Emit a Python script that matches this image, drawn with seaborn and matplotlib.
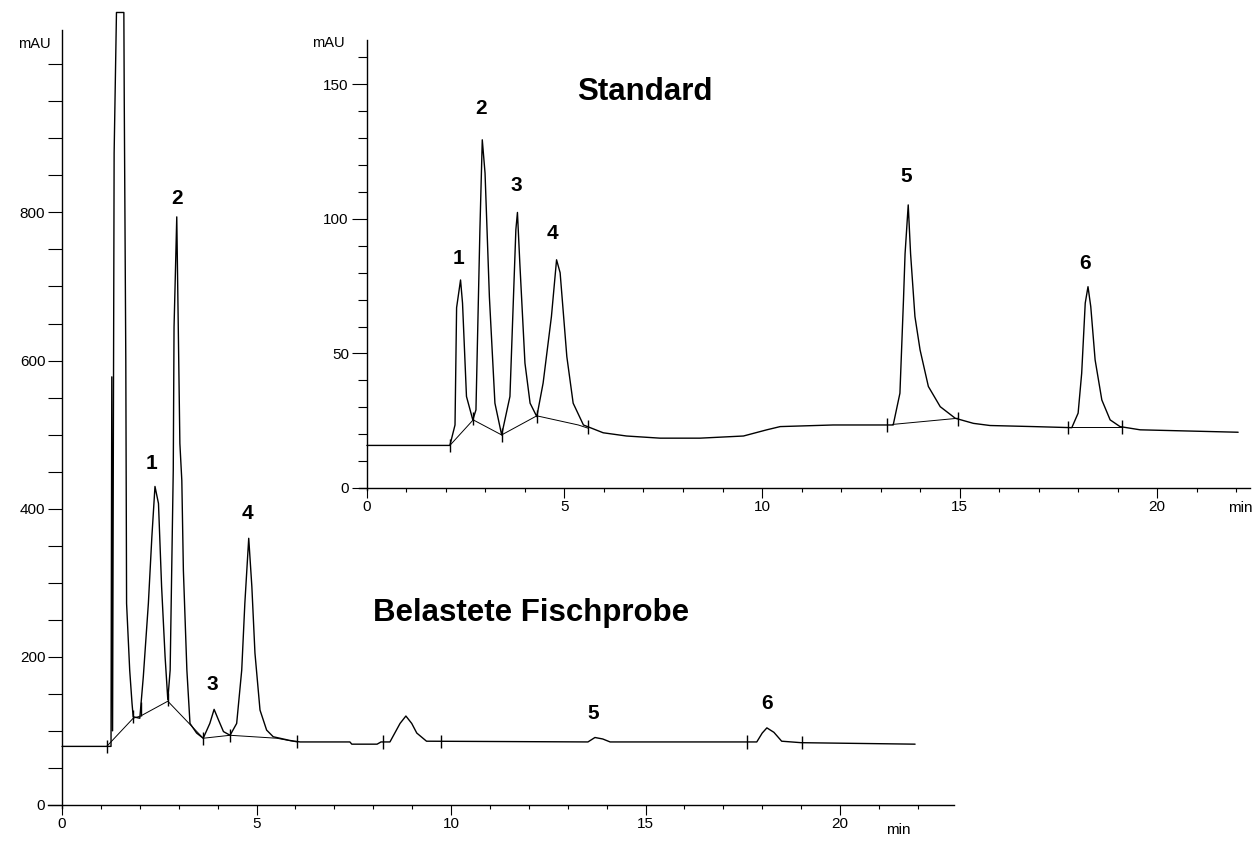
import numpy as np
import matplotlib
matplotlib.use("Agg")
import matplotlib.pyplot as plt
import seaborn as sns
from matplotlib.ticker import MultipleLocator, FixedLocator

sns.set_style("ticks")
plt.rcParams["font.family"] = ["Liberation Sans", "DejaVu Sans"]
plt.rcParams.update({
    "text.color": "black",
    "axes.labelcolor": "black",
    "xtick.color": "black",
    "ytick.color": "black",
    "axes.edgecolor": "black",
})

# --- Belastete Fischprobe (Hauptchromatogramm) ---
probe_t = [0.00, 1.26, 1.28, 1.30, 1.34, 1.40, 1.59, 1.60, 1.64, 1.66, 1.74, 1.80,
           1.83, 2.00, 2.09, 2.22, 2.31, 2.39, 2.48, 2.56, 2.65, 2.72, 2.78, 2.82,
           2.86, 2.88, 2.91, 2.95, 2.97, 3.03, 3.08, 3.12, 3.21, 3.29, 3.46, 3.63,
           3.80, 3.91, 4.02, 4.15, 4.32, 4.49, 4.62, 4.70, 4.80, 4.88, 4.96, 5.09,
           5.26, 5.43, 5.86, 6.12, 7.40, 7.45, 8.10, 8.20, 8.43, 8.69, 8.84, 8.99,
           9.12, 9.37, 13.52, 13.70, 13.90, 14.09, 17.86, 18.00, 18.12, 18.30,
           18.50, 19.00, 21.93]
probe_mau = [79, 79, 578, 100, 880, 1070, 1070, 953, 600, 272, 182, 137,
             119, 117, 173, 272, 362, 430, 407, 295, 200, 142, 182, 317,
             452, 645, 708, 794, 717, 488, 438, 317, 182, 110, 97, 90,
             110, 129, 115, 99, 94, 110, 182, 272, 360, 295, 205, 128,
             101, 92, 87, 85, 85, 82, 82, 85, 85, 110, 120, 110,
             97, 86, 85, 91, 89, 85, 85, 97, 104, 98,
             86, 84, 82]
probe_base_t = [1.15, 1.83, 2.02, 2.72, 3.63, 4.32, 5.52, 6.03]
probe_base_mau = [79, 117, 120, 140, 90, 94, 90, 85]
probe_marks = [1.15, 1.83, 2.02, 2.72, 3.63, 4.32, 6.04, 8.24, 9.74, 17.60, 19.01]
probe_peak_t = [2.31, 2.95, 3.87, 4.77, 13.65, 18.12]
probe_peak_mau = [461, 819, 162, 394, 124, 137]

# --- Standard (Einsatz) ---
std_t = [0.00, 2.10, 2.23, 2.27, 2.37, 2.42, 2.52, 2.68, 2.76, 2.86, 2.92, 2.99,
         3.10, 3.24, 3.41, 3.62, 3.77, 3.81, 3.87, 4.00, 4.13, 4.30, 4.46, 4.67,
         4.80, 4.89, 5.06, 5.22, 5.48, 5.98, 6.57, 7.42, 8.43, 9.53, 10.12, 10.46,
         11.80, 13.32, 13.49, 13.58, 13.62, 13.70, 13.76, 13.87, 14.00, 14.21,
         14.51, 14.89, 15.35, 15.77, 16.87, 17.84, 18.00, 18.09, 18.18, 18.25,
         18.32, 18.43, 18.60, 18.81, 19.06, 19.57, 22.05]
std_mau = [15.8, 15.8, 23.4, 67.0, 77.3, 68.7, 34.0, 25.3, 29.0, 96.0, 129.4, 117.0,
           71.0, 31.5, 19.7, 34.0, 96.0, 102.4, 83.6, 46.4, 31.5, 26.5, 39.0, 63.7,
           84.8, 80.0, 48.8, 31.5, 23.4, 20.5, 19.3, 18.5, 18.5, 19.3, 21.6, 22.8,
           23.4, 23.4, 35.2, 69.9, 87.0, 105.2, 87.0, 63.7, 51.3, 37.7,
           30.2, 25.9, 24.0, 23.2, 22.8, 22.4, 27.8, 42.6, 68.7, 74.8,
           67.4, 47.6, 32.7, 25.3, 22.8, 21.6, 20.7]
std_base_t = [2.10, 2.69, 3.41, 4.30, 5.35, 5.60, 13.30, 14.96, 17.80, 19.10]
std_base_mau = [15.8, 25.3, 19.7, 26.8, 23.4, 22.2, 23.6, 25.9, 22.6, 22.6]
std_base_seg = [0, 0, 0, 0, 0, 0, 1, 1, 2, 2]
std_marks = [2.10, 2.69, 3.41, 4.30, 5.60, 13.16, 14.96, 17.74, 19.10]
std_peak_t = [2.31, 2.89, 3.79, 4.70, 13.66, 18.18]
std_peak_mau = [85.4, 141.0, 112.6, 94.7, 115.7, 83.5]

peak_names = ["1", "2", "3", "4", "5", "6"]

W, H = 1260, 842
fig = plt.figure(figsize=(W / 100, H / 100), dpi=100)
ax = fig.add_axes([48 / W, 1 - 816 / H, 906 / W, 805 / H])
ax2 = fig.add_axes([359 / W, 1 - 496 / H, 891 / W, 456 / H])
ax2.patch.set_alpha(0)

label_font = ["Liberation Sans Narrow", "Liberation Sans", "DejaVu Sans"]


def style_axis(a, xlim, ylim, ytop, ymaj, ymin, ylabels, ylen):
    a.set_xlim(*xlim)
    a.set_ylim(*ylim)
    for s in ["top", "right"]:
        a.spines[s].set_visible(False)
    a.spines["left"].set_position(("data", 0))
    a.spines["bottom"].set_position(("data", 0))
    a.spines["left"].set_bounds(ylim[0] * 0.3, ytop)
    for s in ["left", "bottom"]:
        a.spines[s].set_linewidth(1.0)
        a.spines[s].set_color("black")
    a.xaxis.set_major_locator(FixedLocator([0, 5, 10, 15, 20]))
    a.xaxis.set_minor_locator(MultipleLocator(1))
    a.yaxis.set_major_locator(FixedLocator(ymaj))
    a.yaxis.set_minor_locator(FixedLocator(ymin))
    a.set_yticklabels(ylabels)
    a.set_xticklabels(["0", "5", "10", "15", "20"])
    a.tick_params(axis="x", which="major", direction="out", length=7, width=0.8,
                  pad=2, labelsize=11, colors="black")
    a.tick_params(axis="x", which="minor", direction="out", length=3, width=0.8,
                  colors="black")
    a.tick_params(axis="y", which="major", direction="out", length=ylen[0], width=0.8,
                  pad=2, labelsize=11, colors="black")
    a.tick_params(axis="y", which="minor", direction="out", length=ylen[1], width=0.8,
                  colors="black")
    a.set_xlabel("")
    a.set_ylabel("")
    a.grid(False)


# Hauptchromatogramm
sns.lineplot(x=probe_t, y=probe_mau, sort=False, estimator=None, color="black",
             lw=1.0, ax=ax)
sns.lineplot(x=probe_base_t, y=probe_base_mau, sort=False, estimator=None,
             color="black", lw=0.7, ax=ax)
mark_y = np.interp(probe_marks, probe_t, probe_mau)
ax.vlines(probe_marks, mark_y - 9, mark_y + 9, color="black", lw=1.0)
for name, t, v in zip(peak_names, probe_peak_t, probe_peak_mau):
    ax.text(t, v, name, ha="center", va="center", fontsize=15, fontweight="bold",
            family=label_font, color="black")
style_axis(ax, (-0.36, 22.93), (-15, 1072), 1047,
           [0, 200, 400, 600, 800], list(range(50, 1001, 50)),
           ["0", "200", "400", "600", "800"], (10, 10))

# Standard
sns.lineplot(x=std_t, y=std_mau, sort=False, estimator=None, color="black",
             lw=1.0, ax=ax2)
sns.lineplot(x=std_base_t, y=std_base_mau, units=std_base_seg, sort=False,
             estimator=None, color="black", lw=0.7, ax=ax2)
mark_y2 = np.interp(std_marks, std_t, std_mau)
ax2.vlines(std_marks, mark_y2 - 2.5, mark_y2 + 2.5, color="black", lw=1.0)
for name, t, v in zip(peak_names, std_peak_t, std_peak_mau):
    ax2.text(t, v, name, ha="center", va="center", fontsize=15, fontweight="bold",
             family=label_font, color="black")
style_axis(ax2, (-0.2, 22.35), (-3, 166.5), 166.5,
           [0, 50, 100, 150], list(range(10, 161, 10)),
           ["0", "50", "100", "150"], (11, 6.5))

fig.text(34 / W, 1 - 44 / H, "mAU", ha="center", va="center", fontsize=10.5)
fig.text(328 / W, 1 - 43 / H, "mAU", ha="center", va="center", fontsize=10.5)
fig.text(898 / W, 1 - 830 / H, "min", ha="center", va="center", fontsize=11)
fig.text(1240 / W, 1 - 508 / H, "min", ha="center", va="center", fontsize=11)

fig.text(645 / W, 1 - 92 / H, "Standard", ha="center", va="center",
         fontsize=22.5, fontweight="bold")
fig.text(531 / W, 1 - 613 / H, "Belastete Fischprobe", ha="center", va="center",
         fontsize=22.5, fontweight="bold")

fig.savefig("out.png", dpi=100)
